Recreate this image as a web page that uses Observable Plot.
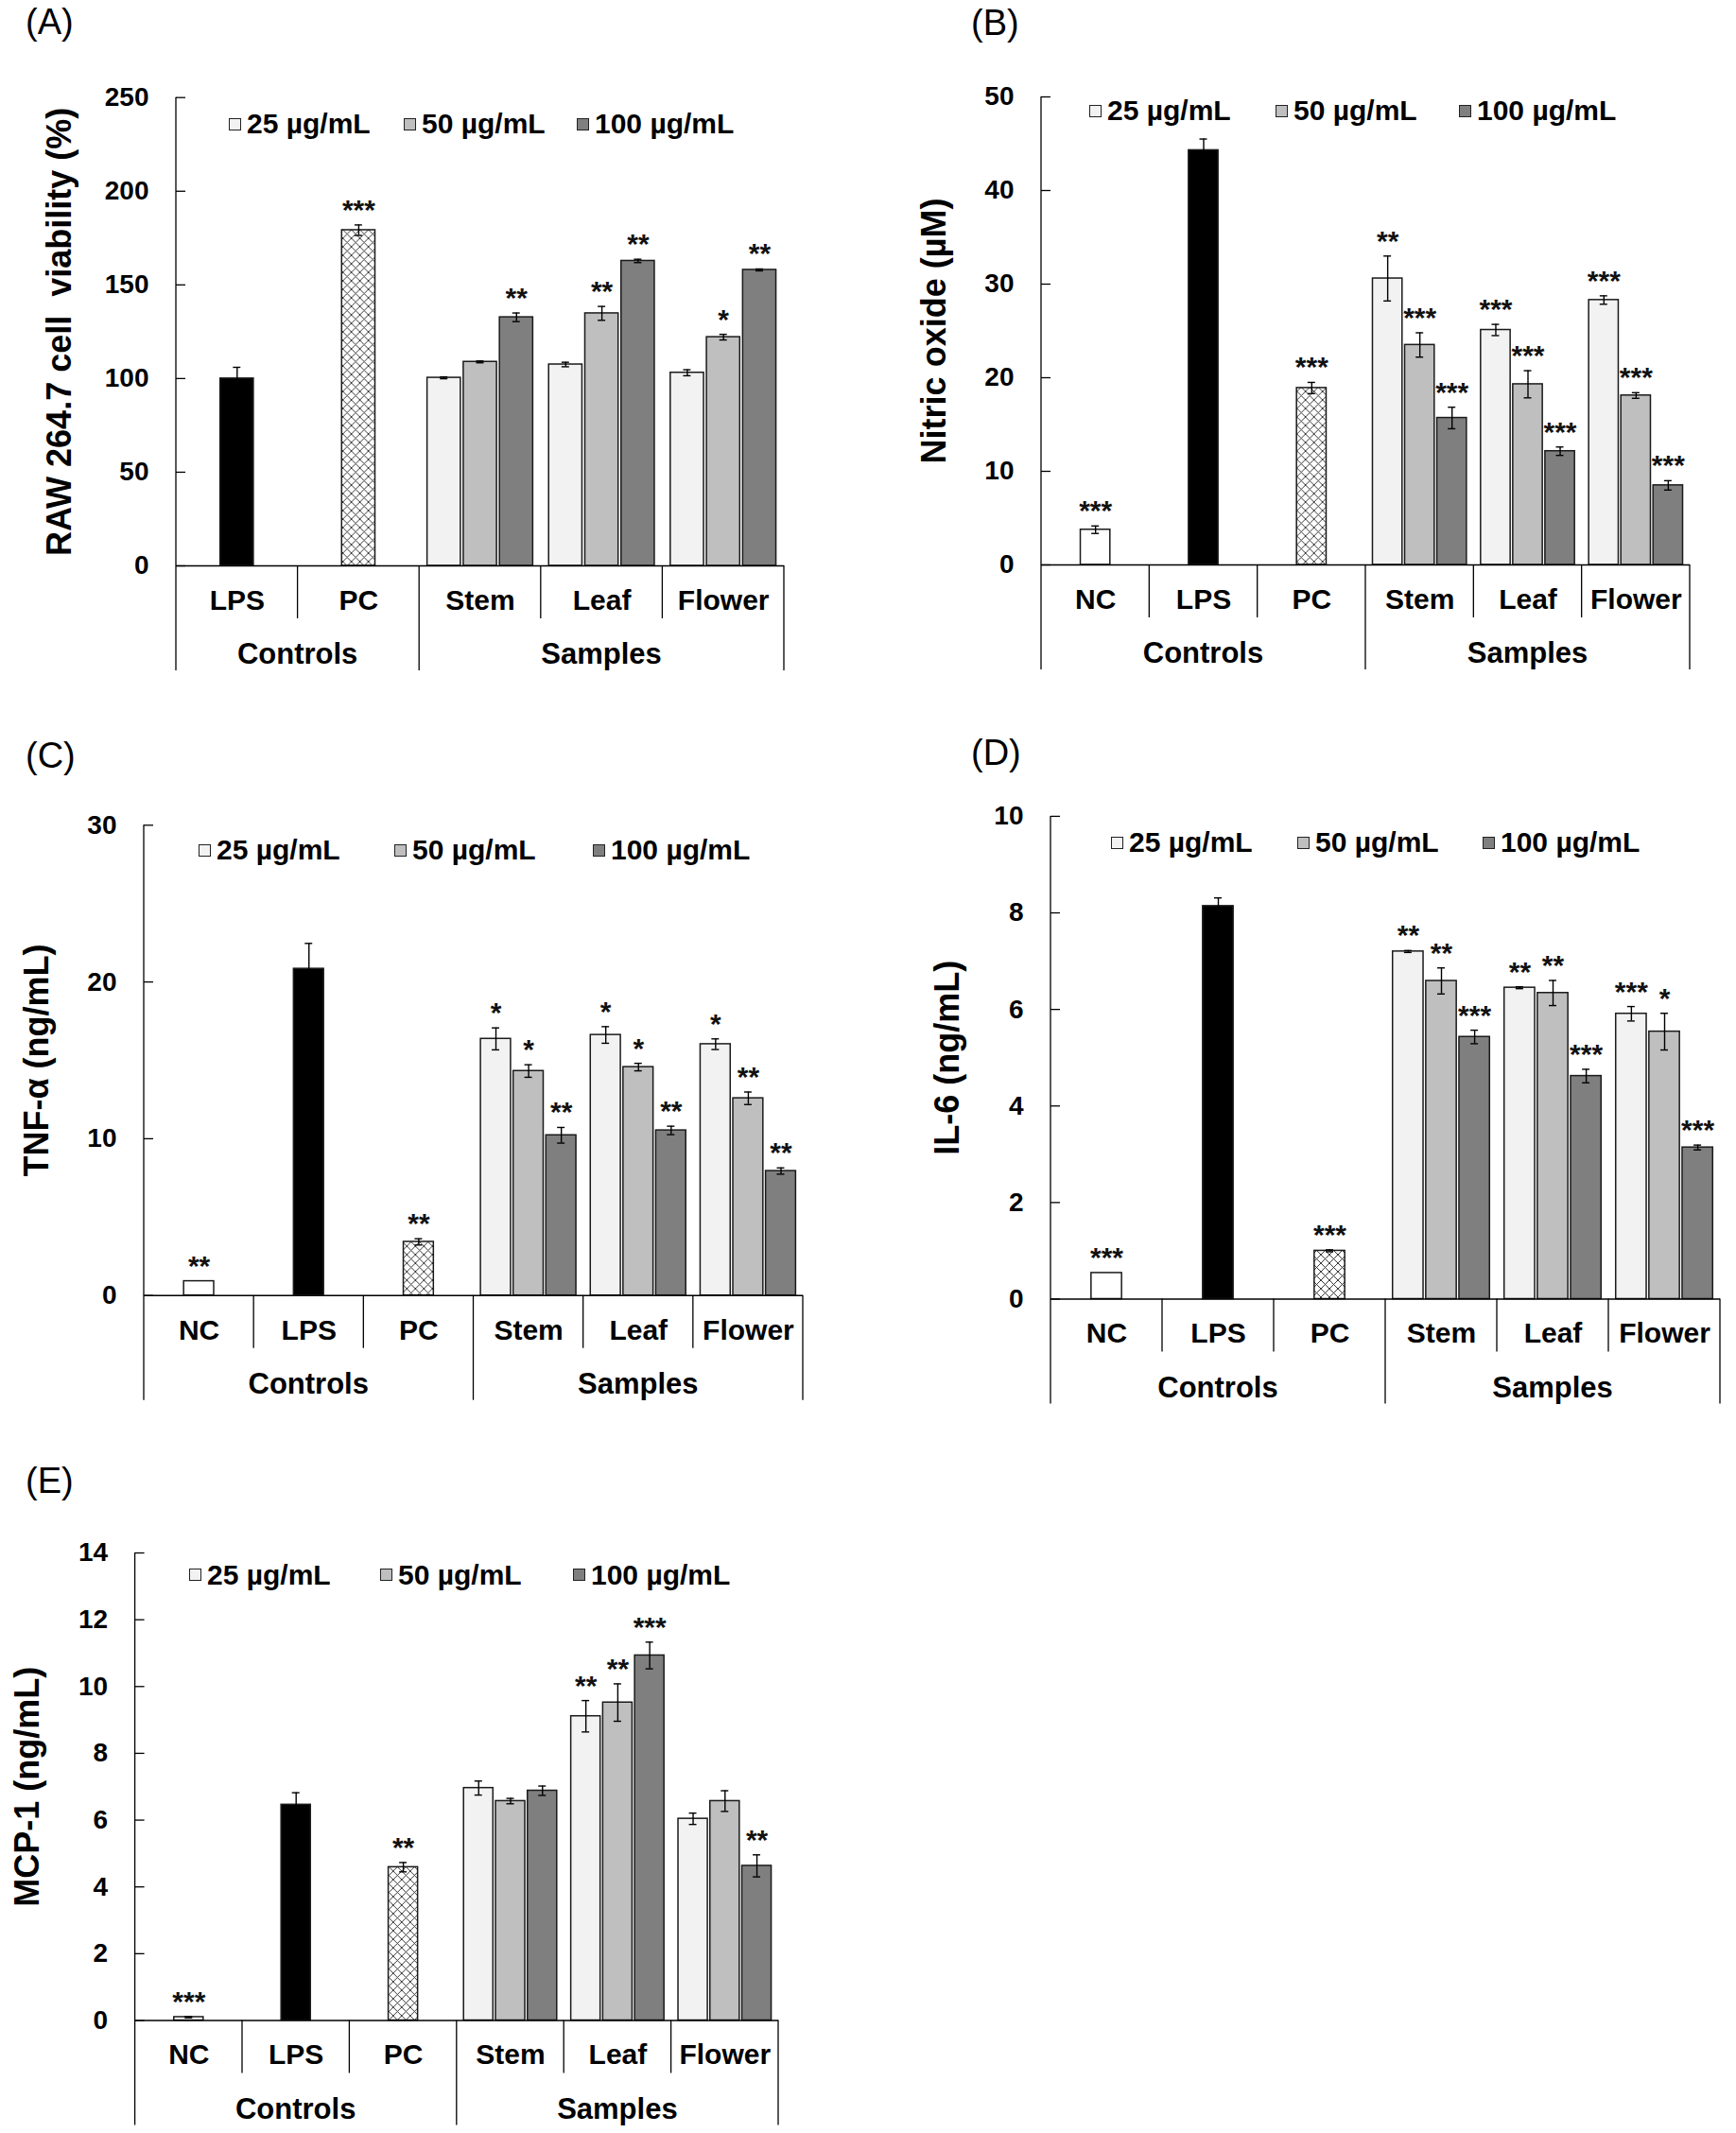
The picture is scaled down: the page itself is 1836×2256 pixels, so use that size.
<!DOCTYPE html>
<html><head><meta charset="utf-8">
<script src="https://cdn.jsdelivr.net/npm/d3@7"></script>
<script src="https://cdn.jsdelivr.net/npm/@observablehq/plot@0.6"></script>
<style>
html,body{margin:0;padding:0;background:#fff;}
body{width:1836px;height:2256px;position:relative;overflow:hidden;font-family:"Liberation Sans",Arial,Helvetica,sans-serif;}
.panel{position:absolute;}
.tag{position:absolute;font-size:38px;line-height:38px;color:#000;font-weight:normal;}
.legend .item{position:absolute;display:flex;align-items:center;white-space:nowrap;transform:translateY(-50%);font-weight:bold;font-size:30px;color:#000;}
.legend .sw{width:11px;height:11px;border:1px solid #222;margin-right:6px;}
</style></head><body>
<svg width="0" height="0" style="position:absolute">
<defs><pattern id="xhatch" patternUnits="userSpaceOnUse" width="9" height="9">
<rect width="9" height="9" fill="#fff"/>
<path d="M0,0L9,9M9,0L0,9" stroke="#222" stroke-width="0.9"/>
</pattern></defs></svg>
<script>
// ---------- categories / labels ----------
const controlNames = ["NC", "LPS", "PC"];
const partNames = ["Stem", "Leaf", "Flower"];
const seriesNames = ["25 µg/mL", "50 µg/mL", "100 µg/mL"];
const groupNames = ["Controls", "Samples"];
const controlFills = ["#ffffff", "#000000", "url(#xhatch)"];
const seriesFills = ["#f2f2f2", "#bfbfbf", "#7f7f7f"];

// ---------- (A) RAW 264.7 cell viability (%) ----------
const viabilityTicks = [0, 50, 100, 150, 200, 250];
const viabilityCtrl = [null, 100.0, 179.2];
const viabilityCtrlErr = [null, 6.0, 2.8];
const viabilityCtrlSig = ["", "", "***"];
const viability25 = [100.4, 107.5, 103.1];
const viability50 = [108.9, 134.8, 122.1];
const viability100 = [132.7, 162.8, 158.0];
const viability25Err = [0.5, 1.2, 1.6];
const viability50Err = [0.5, 3.7, 1.5];
const viability100Err = [2.3, 0.9, 0.5];
const viability25Sig = ["", "", ""];
const viability50Sig = ["", "**", "*"];
const viability100Sig = ["**", "**", "**"];

// ---------- (B) Nitric oxide (µM) ----------
const noTicks = [0, 10, 20, 30, 40, 50];
const noCtrl = [3.76, 44.3, 18.9];
const noCtrlErr = [0.4, 1.2, 0.6];
const noCtrlSig = ["***", "", "***"];
const no25 = [30.6, 25.1, 28.3];
const no50 = [23.5, 19.3, 18.1];
const no100 = [15.7, 12.15, 8.5];
const no25Err = [2.4, 0.6, 0.45];
const no50Err = [1.3, 1.45, 0.3];
const no100Err = [1.15, 0.45, 0.5];
const no25Sig = ["**", "***", "***"];
const no50Sig = ["***", "***", "***"];
const no100Sig = ["***", "***", "***"];

// ---------- (C) TNF-α (ng/mL) ----------
const tnfTicks = [0, 10, 20, 30];
const tnfCtrl = [0.91, 20.84, 3.42];
const tnfCtrlErr = [0, 1.62, 0.2];
const tnfCtrlSig = ["**", "", "**"];
const tnf25 = [16.37, 16.62, 16.03];
const tnf50 = [14.32, 14.57, 12.58];
const tnf100 = [10.22, 10.53, 7.94];
const tnf25Err = [0.7, 0.53, 0.34];
const tnf50Err = [0.4, 0.24, 0.4];
const tnf100Err = [0.5, 0.27, 0.2];
const tnf25Sig = ["*", "*", "*"];
const tnf50Sig = ["*", "*", "**"];
const tnf100Sig = ["**", "**", "**"];

// ---------- (D) IL-6 (ng/mL) ----------
const il6Ticks = [0, 2, 4, 6, 8, 10];
const il6Ctrl = [0.54, 8.14, 1.0];
const il6CtrlErr = [0, 0.17, 0.02];
const il6CtrlSig = ["***", "", "***"];
const il625 = [7.2, 6.45, 5.91];
const il650 = [6.59, 6.34, 5.54];
const il6100 = [5.43, 4.62, 3.14];
const il625Err = [0.02, 0.02, 0.15];
const il650Err = [0.27, 0.26, 0.38];
const il6100Err = [0.14, 0.14, 0.05];
const il625Sig = ["**", "**", "***"];
const il650Sig = ["**", "**", "*"];
const il6100Sig = ["***", "***", "***"];

// ---------- (E) MCP-1 (ng/mL) ----------
const mcpTicks = [0, 2, 4, 6, 8, 10, 12, 14];
const mcpCtrl = [0.1, 6.46, 4.59];
const mcpCtrlErr = [0.02, 0.36, 0.14];
const mcpCtrlSig = ["***", "", "**"];
const mcp25 = [6.96, 9.11, 6.04];
const mcp50 = [6.57, 9.52, 6.57];
const mcp100 = [6.88, 10.93, 4.63];
const mcp25Err = [0.21, 0.47, 0.17];
const mcp50Err = [0.08, 0.56, 0.31];
const mcp100Err = [0.14, 0.4, 0.33];
const mcp25Sig = ["", "**", ""];
const mcp50Sig = ["", "**", ""];
const mcp100Sig = ["", "***", "**"];

const FONT = '"Liberation Sans", Arial, Helvetica, sans-serif';

const panels = [
  {tag: "(A)", title: "RAW 264.7 cell  viability (%)", ticks: viabilityTicks,
   ctrl: viabilityCtrl, ctrlErr: viabilityCtrlErr, ctrlSig: viabilityCtrlSig,
   vals: [viability25, viability50, viability100], errs: [viability25Err, viability50Err, viability100Err],
   sigs: [viability25Sig, viability50Sig, viability100Sig],
   box: {left: 0, top: 0, w: 918, h: 740, mL: 186, mR: 89, mT: 102.7, mB: 142}, labelOffset: 137,
   leg: {x: [242, 427, 610], y: 131}, tagPos: [27, 3.5]},
  {tag: "(B)", title: "Nitric oxide (µM)", ticks: noTicks,
   ctrl: noCtrl, ctrlErr: noCtrlErr, ctrlSig: noCtrlSig,
   vals: [no25, no50, no100], errs: [no25Err, no50Err, no100Err], sigs: [no25Sig, no50Sig, no100Sig],
   box: {left: 918, top: 0, w: 918, h: 740, mL: 183, mR: 49, mT: 102, mB: 143}, labelOffset: 127,
   leg: {x: [1152, 1349, 1543], y: 117}, tagPos: [1027, 4.5]},
  {tag: "(C)", title: "TNF-α (ng/mL)", ticks: tnfTicks,
   ctrl: tnfCtrl, ctrlErr: tnfCtrlErr, ctrlSig: tnfCtrlSig,
   vals: [tnf25, tnf50, tnf100], errs: [tnf25Err, tnf50Err, tnf100Err], sigs: [tnf25Sig, tnf50Sig, tnf100Sig],
   box: {left: 0, top: 760, w: 918, h: 740, mL: 152, mR: 69, mT: 112.3, mB: 130.3}, labelOffset: 127,
   leg: {x: [210, 417, 627], y: 899}, tagPos: [27, 779.5]},
  {tag: "(D)", title: "IL-6 (ng/mL)", ticks: il6Ticks,
   ctrl: il6Ctrl, ctrlErr: il6CtrlErr, ctrlSig: il6CtrlSig,
   vals: [il625, il650, il6100], errs: [il625Err, il650Err, il6100Err], sigs: [il625Sig, il650Sig, il6100Sig],
   box: {left: 918, top: 760, w: 918, h: 740, mL: 193, mR: 17, mT: 102.9, mB: 126.5}, labelOffset: 123,
   leg: {x: [1175, 1372, 1568], y: 891}, tagPos: [1027, 776.5]},
  {tag: "(E)", title: "MCP-1 (ng/mL)", ticks: mcpTicks,
   ctrl: mcpCtrl, ctrlErr: mcpCtrlErr, ctrlSig: mcpCtrlSig,
   vals: [mcp25, mcp50, mcp100], errs: [mcp25Err, mcp50Err, mcp100Err], sigs: [mcp25Sig, mcp50Sig, mcp100Sig],
   box: {left: 0, top: 1520, w: 918, h: 736, mL: 142.6, mR: 95, mT: 122, mB: 119.5}, labelOffset: 128,
   leg: {x: [200, 402, 606], y: 1665.5}, tagPos: [27, 1546.5]}
];

function buildRows(p) {
  const rows = [];
  controlNames.forEach((c, i) => {
    if (p.ctrl[i] == null) return;
    rows.push({cat: c, slot: seriesNames[1], key: c, value: p.ctrl[i], err: p.ctrlErr[i] || 0, sig: p.ctrlSig[i]});
  });
  seriesNames.forEach((s, j) => partNames.forEach((part, i) => {
    rows.push({cat: part, slot: s, key: s, value: p.vals[j][i], err: p.errs[j][i] || 0, sig: p.sigs[j][i]});
  }));
  rows.forEach(r => { r.hi = r.value + r.err; r.lo = r.value - r.err; });
  return rows;
}

function drawCategoryAxis(svgEl, p, cats) {
  const fx = svgEl.scale("fx"), y = svgEl.scale("y");
  const s = d3.select(svgEl);
  const y0 = y.apply(0), yTop = y.apply(p.ticks[p.ticks.length - 1]);
  const bw = fx.bandwidth;
  const xs = cats.map(c => fx.apply(c));
  const left = xs[0], right = xs[xs.length - 1] + bw, mid = fx.apply(partNames[0]);
  const g = s.append("g").attr("stroke", "#000").attr("stroke-width", 1.3).attr("fill", "none");
  const line = (x, y1, y2) => g.append("line").attr("x1", x).attr("x2", x).attr("y1", y1).attr("y2", y2);
  line(left, yTop, y0 + 111);
  cats.slice(1).forEach(c => {
    const x = fx.apply(c);
    line(x, y0, y0 + (c === partNames[0] ? 111 : 56));
  });
  line(right, y0, y0 + 111);
  const t = s.append("g").attr("font-size", 31).attr("text-anchor", "middle").attr("fill", "#000");
  t.append("text").attr("x", (left + mid) / 2).attr("y", y0 + 104).text(groupNames[0]);
  t.append("text").attr("x", (mid + right) / 2).attr("y", y0 + 104).text(groupNames[1]);
}

panels.forEach(p => {
  const b = p.box;
  const rows = buildRows(p);
  const cats = controlNames.filter((c, i) => p.ctrl[i] != null).concat(partNames);
  const facetW = (b.w - b.mL - b.mR) / cats.length;
  const barW = facetW * 0.274;
  const capInset = Math.max(0, (barW - 8) / 2);
  const errRows = rows.filter(r => r.err > 0);
  const sigRows = rows.filter(r => r.sig);
  const max = p.ticks[p.ticks.length - 1];
  const svg = Plot.plot({
    width: b.w, height: b.h,
    marginLeft: b.mL, marginRight: b.mR, marginTop: b.mT, marginBottom: b.mB,
    style: {fontFamily: FONT, fontWeight: "bold", background: "transparent", overflow: "visible"},
    fx: {domain: cats, padding: 0, round: false, label: null},
    x: {domain: seriesNames, paddingInner: 0.08, paddingOuter: 0.22, round: false, axis: null},
    y: {domain: [0, max], label: null},
    color: {domain: [...controlNames, ...seriesNames], range: [...controlFills, ...seriesFills]},
    marks: [
      Plot.barY(rows, {fx: "cat", x: "slot", y: "value", fill: "key", stroke: "#1a1a1a", strokeWidth: 1.5}),
      Plot.ruleX(errRows, {fx: "cat", x: "slot", y1: "lo", y2: "hi", stroke: "#000", strokeWidth: 1.4}),
      Plot.tickY(errRows, {fx: "cat", x: "slot", y: "hi", insetLeft: capInset, insetRight: capInset, stroke: "#000", strokeWidth: 1.4}),
      Plot.tickY(errRows, {fx: "cat", x: "slot", y: "lo", insetLeft: capInset, insetRight: capInset, stroke: "#000", strokeWidth: 1.4}),
      Plot.text(sigRows, {fx: "cat", x: "slot", y: "hi", text: "sig", lineAnchor: "bottom", dy: -6, fontSize: 30, fill: "#111"}),
      Plot.ruleY([0], {stroke: "#000", strokeWidth: 1.4}),
      Plot.axisY({ticks: p.ticks, tickSize: 0, tickPadding: 29, fontSize: 28, label: null, facetAnchor: "left"}),
      Plot.axisY({ticks: p.ticks, tickSize: 10, dx: 10, tickFormat: () => "", label: null, facetAnchor: "left", strokeWidth: 1.3}),
      Plot.axisY({ticks: [], label: p.title, labelAnchor: "center", labelOffset: p.labelOffset, labelArrow: "none", fontSize: 36, facetAnchor: "left"}),
      Plot.axisFx({anchor: "bottom", tickSize: 0, tickPadding: 25, fontSize: 30, label: null})
    ]
  });
  const wrap = document.createElement("div");
  wrap.className = "panel";
  wrap.style.left = b.left + "px"; wrap.style.top = b.top + "px";
  wrap.style.width = b.w + "px"; wrap.style.height = b.h + "px";
  wrap.appendChild(svg);
  document.body.appendChild(wrap);
  drawCategoryAxis(svg, p, cats);

  const tag = document.createElement("div");
  tag.className = "tag"; tag.textContent = p.tag;
  tag.style.left = p.tagPos[0] + "px"; tag.style.top = p.tagPos[1] + "px";
  document.body.appendChild(tag);

  const leg = document.createElement("div");
  leg.className = "legend";
  seriesNames.forEach((name, i) => {
    const item = document.createElement("div");
    item.className = "item";
    item.style.left = p.leg.x[i] + "px"; item.style.top = p.leg.y + "px";
    const sw = document.createElement("span");
    sw.className = "sw"; sw.style.background = seriesFills[i];
    const tx = document.createElement("span"); tx.textContent = name;
    item.appendChild(sw); item.appendChild(tx);
    leg.appendChild(item);
  });
  document.body.appendChild(leg);
});
</script>
</body></html>
